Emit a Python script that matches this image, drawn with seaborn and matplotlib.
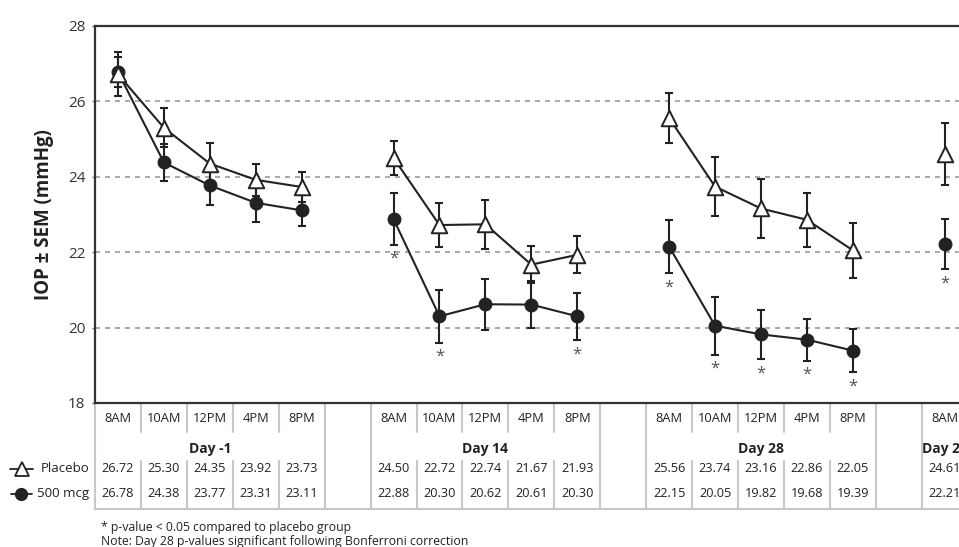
import numpy as np
import pandas as pd
import seaborn as sns
import matplotlib
matplotlib.use('Agg')
import matplotlib.pyplot as plt

sns.set_theme(style='white')
plt.rcParams['font.family'] = ['Open Sans', 'DejaVu Sans']

days = ['Day -1', 'Day 14', 'Day 28', 'Day 29']
times = ['8AM', '10AM', '12PM', '4PM', '8PM']

placebo = [[26.72, 25.30, 24.35, 23.92, 23.73],
           [24.50, 22.72, 22.74, 21.67, 21.93],
           [25.56, 23.74, 23.16, 22.86, 22.05],
           [24.61]]
treated = [[26.78, 24.38, 23.77, 23.31, 23.11],
           [22.88, 20.30, 20.62, 20.61, 20.30],
           [22.15, 20.05, 19.82, 19.68, 19.39],
           [22.21]]

# SEM
placebo_sem = [[0.58, 0.52, 0.55, 0.42, 0.40],
               [0.45, 0.58, 0.65, 0.50, 0.49],
               [0.67, 0.78, 0.78, 0.72, 0.73],
               [0.82]]
treated_sem = [[0.40, 0.48, 0.52, 0.51, 0.42],
               [0.68, 0.70, 0.68, 0.63, 0.63],
               [0.71, 0.77, 0.65, 0.56, 0.58],
               [0.66]]

# p < 0.05 markers for 500 mcg
signif = [[0, 0, 0, 0, 0],
          [1, 1, 0, 0, 1],
          [1, 1, 1, 1, 1],
          [1]]

rows = []
for d, day in enumerate(days):
    for t in range(len(placebo[d])):
        pos = d * 6 + t
        rows.append([pos, day, times[t], 'Placebo', placebo[d][t], placebo_sem[d][t], 0])
        rows.append([pos, day, times[t], '500 mcg', treated[d][t], treated_sem[d][t], signif[d][t]])
df = pd.DataFrame(rows, columns=['pos', 'day', 'time', 'group', 'iop', 'sem', 'sig'])

fig = plt.figure(figsize=(9.59, 5.47), dpi=100)
W, H = 959, 547
ax = fig.add_axes([95 / W, (H - 403) / H, (W - 95) / W, (403 - 26) / H])

dark = '#222222'
grey = '#c8c8c8'

sns.lineplot(data=df, x='pos', y='iop', hue='group', units='day', estimator=None,
             palette={'Placebo': dark, '500 mcg': dark}, lw=1.5, legend=False, ax=ax, zorder=3)

for g in ['Placebo', '500 mcg']:
    sub = df[df['group'] == g]
    ax.errorbar(sub['pos'], sub['iop'], yerr=sub['sem'], fmt='none', ecolor=dark,
                elinewidth=1.5, capsize=3.2, capthick=1.5, zorder=2)

sns.scatterplot(data=df[df['group'] == '500 mcg'], x='pos', y='iop', marker='o', s=85,
                color=dark, edgecolor=dark, linewidth=0.8, ax=ax, zorder=4, legend=False)
sns.scatterplot(data=df[df['group'] == 'Placebo'], x='pos', y='iop', marker='^', s=125,
                color='white', edgecolor=dark, linewidth=1.4, ax=ax, zorder=5, legend=False)

for _, r in df[df['sig'] == 1].iterrows():
    ax.text(r['pos'], r['iop'] - r['sem'] - 0.38, '*', ha='center', va='center',
            fontsize=12, color='#555555')

xmax = (W - 118.5) / 45.9
ax.set_xlim(-0.5, xmax)
ax.set_ylim(18, 28)
ax.set_yticks([18, 20, 22, 24, 26, 28])
ax.set_xticks([])
ax.set_xlabel('')
ax.set_ylabel('IOP ± SEM (mmHg)', fontsize=13.5, fontweight='bold', color=dark, labelpad=10)
ax.tick_params(axis='y', labelsize=11, labelcolor='#333333', length=2, width=1,
               color='#777777', pad=5, left=True)
for y in [20, 22, 24, 26]:
    ax.axhline(y, color='#9a9a9a', lw=1.2, ls=(0, (3, 3)), zorder=1)
for s in ['left', 'bottom', 'top']:
    ax.spines[s].set_color('#333333')
    ax.spines[s].set_linewidth(1.6)
ax.spines['right'].set_visible(False)

# table under the plot
tr = ax.get_xaxis_transform()
y_top, y_timebot, y_datatop, y_bot = 0.0, -0.077, -0.154, -0.280
y_time, y_day, y_plac, y_trt = -0.040, -0.122, -0.175, -0.239


def vline(x, y0, y1):
    ax.plot([x, x], [y0, y1], color=grey, lw=1.5, transform=tr, clip_on=False)


ax.plot([-0.5, xmax], [y_bot, y_bot], color=grey, lw=1.5, transform=tr, clip_on=False)
for d, day in enumerate(days):
    start = d * 6
    n = len(placebo[d])
    vline(start - 0.5, y_top, y_bot)
    vline(start + n - 0.5, y_top, y_bot)
    for k in range(1, n):
        vline(start + k - 0.5, y_top, y_timebot)
        vline(start + k - 0.5, y_datatop, y_bot)
    for t in range(n):
        ax.text(start + t, y_time, times[t], transform=tr, ha='center', va='center',
                fontsize=9.3, color=dark)
        ax.text(start + t, y_plac, f'{placebo[d][t]:.2f}', transform=tr, ha='center',
                va='center', fontsize=9.2, color=dark)
        ax.text(start + t, y_trt, f'{treated[d][t]:.2f}', transform=tr, ha='center',
                va='center', fontsize=9.2, color=dark)
    ax.text(start + (n - 1) / 2, y_day, day, transform=tr, ha='center', va='center',
            fontsize=10, fontweight='bold', color=dark)

# row legend in left margin
ft = fig.transFigure
ax.plot([10 / W, 33 / W], [1 - 469 / H] * 2, color=dark, lw=1.3, transform=ft, clip_on=False)
ax.plot([21.5 / W], [1 - 469 / H], marker='^', ms=9.5, mfc='white', mec=dark, mew=1.3,
        transform=ft, clip_on=False)
ax.plot([11 / W, 32 / W], [1 - 494 / H] * 2, color=dark, lw=1.3, transform=ft, clip_on=False)
ax.plot([21 / W], [1 - 494 / H], marker='o', ms=8.5, color=dark, transform=ft, clip_on=False)
fig.text(89 / W, 1 - 469 / H, 'Placebo', ha='right', va='center', fontsize=9.5, color=dark)
fig.text(89 / W, 1 - 494 / H, '500 mcg', ha='right', va='center', fontsize=9.5, color=dark)

fig.text(101 / W, 1 - 527 / H, '* p-value < 0.05 compared to placebo group',
         ha='left', va='center', fontsize=8.8, color=dark)
fig.text(101 / W, 1 - 541 / H, 'Note: Day 28 p-values significant following Bonferroni correction',
         ha='left', va='center', fontsize=8.8, color=dark)

fig.savefig('out.png', dpi=100)
